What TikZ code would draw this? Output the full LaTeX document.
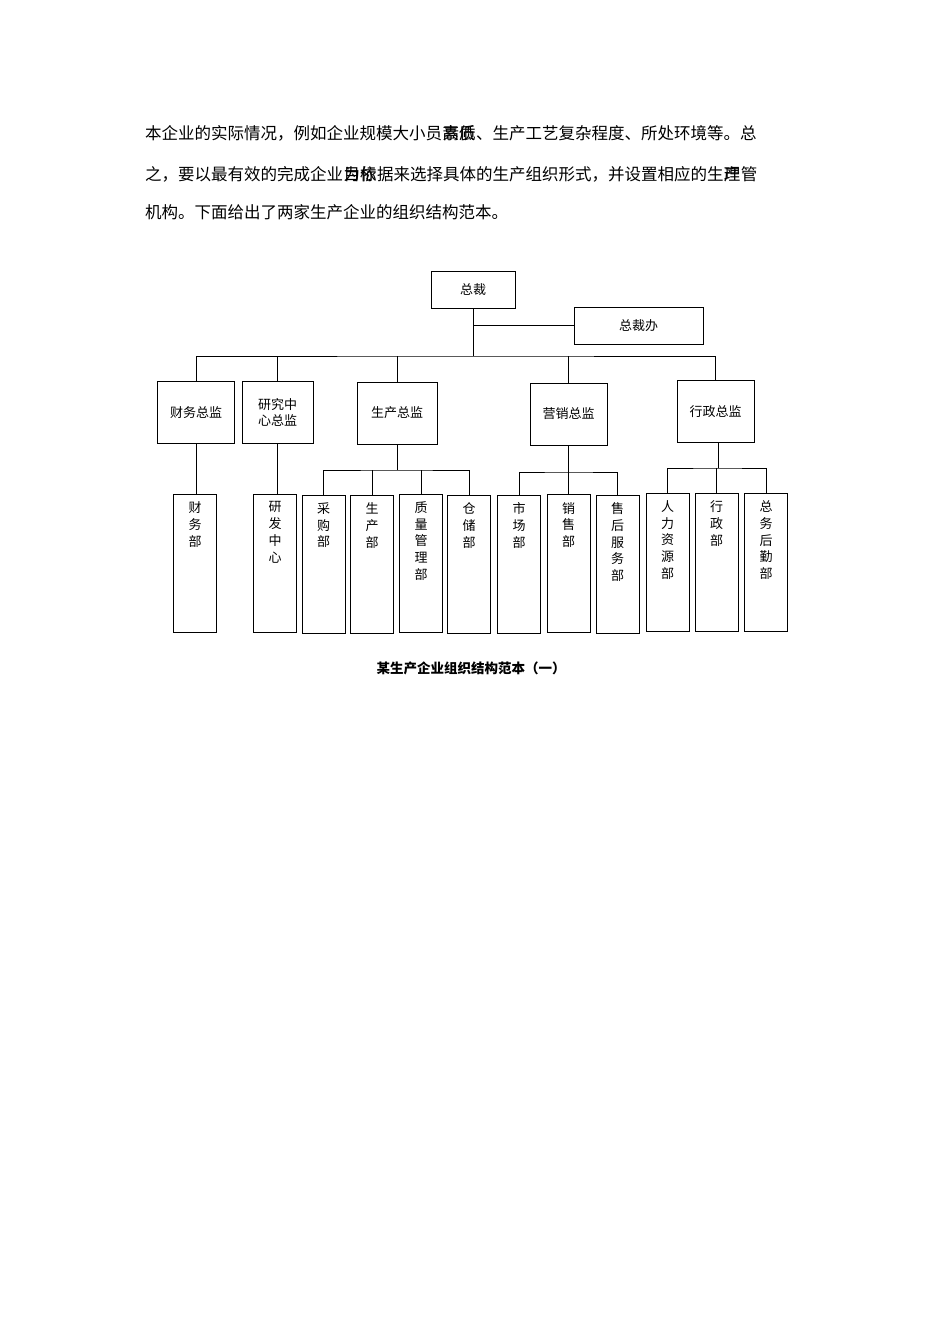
\documentclass[tikz,border=0pt]{standalone}
\usepackage{fontspec}
\newfontfamily\cjk{Noto Sans CJK SC}
\tikzset{
	para/.style={inner sep=0pt, anchor=base west, font=\cjk\fontsize{16.5}{16.5}\selectfont},
	head/.style={draw, line width=1pt, align=center, inner sep=0pt, font=\cjk\fontsize{13}{16.7}\selectfont},
	dept/.style={draw, line width=1pt, minimum width=43pt, minimum height=138pt, inner sep=0pt},
	vtext/.style={align=center, inner sep=0pt, anchor=north, font=\cjk\fontsize{13}{16.7}\selectfont},
	link/.style={line width=0.8pt}
}
\begin{document}
\begin{tikzpicture}[x=1pt,y=-1pt]
	\fill[white] (0,0) rectangle (950,1344) ;
	\useasboundingbox (0,0) rectangle (950,1344) ;
%%% Absatz ueber dem Schema
	\node[para] (l1a) at (145,139) {本企业的实际情况，例如企业规模大小员} ;
	\node[para] (l1b) at (l1a.base east) {素质} ;
	\node[para] (l1x) at (l1a.base east) {高低} ;
	\node[para] (l1c) at (l1b.base east) {、生产工艺复杂程度、所处环境等。总} ;
	\node[para] (l2a) at (145,180) {之，要以最有效的完成企业} ;
	\node[para] (l2b) at (l2a.base east) {为依} ;
	\node[para] (l2x) at (l2a.base east) {目标} ;
	\node[para] (l2c) at (l2b.base east) {据来选择具体的生产组织形式，并设置相应的生} ;
	\node[para] (l2d) at (l2c.base east) {产} ;
	\node[para] (l2y) at (l2c.base east) {理} ;
	\node[para] (l2e) at (l2d.base east) {管} ;
	\node[para] (l3a) at (145,218) {机构。下面给出了两家生产企业的组织结构范本。} ;
%%% oberste Ebene
	\node[head, minimum width=84pt, minimum height=37pt] (zongcai) at (473,289.5) {总裁} ;
	\node[head, minimum width=129pt, minimum height=37pt] (zcb) at (638.5,325.5) {总裁办} ;
	\coordinate (bus) at (475,356) ;
	\draw[link] (zongcai.south) -- (zongcai.south |- bus) ;
	\draw[link] (zongcai.south |- zcb.west) -- (zcb.west) ;
%%% Direktoren
	\node[head, minimum width=77pt, minimum height=62pt] (caiwuzj) at (196,412.5) {财务总监} ;
	\node[head, minimum width=71pt, minimum height=62pt] (yanjiuzj) at (277.5,412.5) {研究中\\心总监} ;
	\node[head, minimum width=80pt, minimum height=62pt] (shengchanzj) at (397,413) {生产总监} ;
	\node[head, minimum width=77pt, minimum height=62pt] (yingxiaozj) at (568.5,414) {营销总监} ;
	\node[head, minimum width=77pt, minimum height=62pt] (xingzhengzj) at (715.5,411.5) {行政总监} ;
	\draw[link] (caiwuzj.north) |- (bus) -| (xingzhengzj.north) ;
	\foreach \n in {yanjiuzj,shengchanzj,yingxiaozj}{
		\draw[link] (\n.north) -- (\n.north |- bus) ;
	}
%%% Abteilungen
	\foreach \n/\x/\y/\t in {caiwubu/195/563/{财\\务\\部}, yanfa/275/563/{研\\发\\中\\心},
		caigou/323.5/564/{采\\购\\部}, shengchanbu/372/564/{生\\产\\部}, zhiliang/421/563/{质\\量\\管\\理\\部},
		cangchu/469/564/{仓\\储\\部}, shichang/519/564/{市\\场\\部}, xiaoshou/568.5/563.5/{销\\售\\部},
		shouhou/617.5/564/{售\\后\\服\\务\\部}, renli/667.5/562/{人\\力\\资\\源\\部},
		xingzhengbu/716.5/562/{行\\政\\部}, zongwu/766/562/{总\\务\\后\\勤\\部}}{
		\node[dept] (\n) at (\x,\y) {} ;
		\node[vtext] (\n-t) at ([yshift=-8pt]\n.north) {\t} ;
	}
%%% Verbindungen nach unten
	\draw[link] (caiwuzj.south) -- (caiwuzj.south |- caiwubu.north) ;
	\draw[link] (yanjiuzj.south) -- (yanjiuzj.south |- yanfa.north) ;
	\coordinate (scbus) at (397,470) ;
	\draw[link] (shengchanzj.south) -- (scbus) ;
	\draw[link] (caigou.north) |- (scbus) -| (cangchu.north) ;
	\foreach \n in {shengchanbu,zhiliang}{
		\draw[link] (\n.north) -- (\n.north |- scbus) ;
	}
	\coordinate (yxbus) at (569,472) ;
	\draw[link] (yingxiaozj.south) -- (yingxiaozj.south |- yxbus) ;
	\draw[link] (shichang.north) |- (yxbus) -| (shouhou.north) ;
	\draw[link] (xiaoshou.north) -- (xiaoshou.north |- yxbus) ;
	\coordinate (xzbus) at (718,468) ;
	\draw[link] (xingzhengzj.south -| xzbus) -- (xzbus) ;
	\draw[link] (renli.north) |- (xzbus) -| (zongwu.north) ;
	\draw[link] (xingzhengbu.north) -- (xingzhengbu.north |- xzbus) ;
%%% Bildunterschrift
	\node[inner sep=0pt, font=\cjk\bfseries\fontsize{13.5}{13.5}\selectfont] (caption) at (471,668) {某生产企业组织结构范本（一）} ;
\end{tikzpicture}
\end{document}
